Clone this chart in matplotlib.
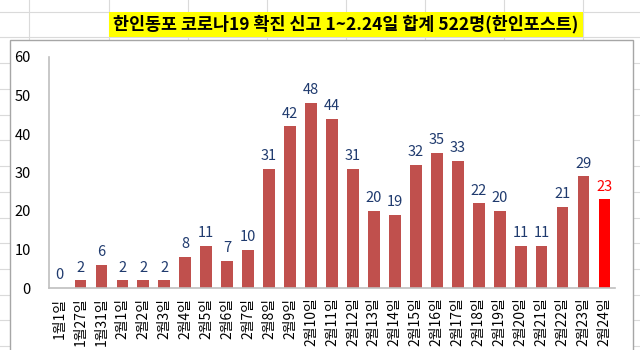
import matplotlib.pyplot as plt
from matplotlib.patches import Rectangle

plt.rcParams["font.family"] = ["Noto Sans CJK KR", "DejaVu Sans"]

# Daily confirmed cases reported
dates = ["1월1일", "1월27일", "1월31일", "2월1일", "2월2일", "2월3일", "2월4일",
         "2월5일", "2월6일", "2월7일", "2월8일", "2월9일", "2월10일", "2월11일",
         "2월12일", "2월13일", "2월14일", "2월15일", "2월16일", "2월17일",
         "2월18일", "2월19일", "2월20일", "2월21일", "2월22일", "2월23일", "2월24일"]
cases = [0, 2, 6, 2, 2, 2, 8, 11, 7, 10, 31, 42, 48, 44, 31, 20, 19, 32, 35,
         33, 22, 20, 11, 11, 21, 29, 23]
title = "한인동포 코로나19 확진 신고 1~2.24일 합계 522명(한인포스트)"

W, H = 640, 350
fig = plt.figure(figsize=(W / 100, H / 100), dpi=100)

# spreadsheet backdrop drawn in pixel units
bg = fig.add_axes([0, 0, 1, 1])
bg.set_xlim(0, W)
bg.set_ylim(H, 0)
bg.axis("off")
rows = [12, 37, 63, 89, 115, 140, 166, 192, 218, 243, 269, 295, 320, 346]
cols = [29, 109, 188, 267, 346, 425, 504, 583]
for y in rows:
    bg.axhline(y, color="#dadada", lw=0.8, zorder=0)
for x in cols:
    bg.axvline(x, color="#dadada", lw=0.8, zorder=0)

# yellow title cell
bg.add_patch(Rectangle((109, 12), 474, 25, facecolor="#ffff00", edgecolor="none", zorder=1))
bg.text(346, 24.5, title, ha="center", va="center", fontsize=12.5,
        fontweight="bold", color="black", zorder=2)

# chart area
bg.add_patch(Rectangle((10, 40), 623, 330, facecolor="white", edgecolor="#a6a6a6",
                       lw=1, zorder=3))

ax = fig.add_axes([49 / W, 62 / H, 566 / W, 231 / H], zorder=2)
ax.patch.set_alpha(0)
colors = ["#c0504d"] * (len(cases) - 1) + ["#ff0000"]
x = range(len(cases))
bars = ax.bar(x, cases, width=0.56, color=colors)

for i, v in enumerate(cases):
    ax.text(i, v + 1.5, str(v), ha="center", va="bottom", fontsize=10.5,
            color="#ff0000" if i == len(cases) - 1 else "#1f3a6e")

ax.set_ylim(0, 60)
ax.set_xlim(-0.5, len(cases) - 0.5)
ax.set_yticks(range(0, 61, 10))
ax.set_xticks(list(x))
ax.set_xticklabels(dates, rotation=90, fontsize=10, color="black")
ax.tick_params(axis="y", length=0, pad=13, labelsize=10.5)
ax.tick_params(axis="x", length=0, pad=7)
for s in ["top", "right"]:
    ax.spines[s].set_visible(False)
for s in ["left", "bottom"]:
    ax.spines[s].set_color("#bfbfbf")
    ax.spines[s].set_linewidth(1.2)

fig.savefig("out.png", dpi=100)
